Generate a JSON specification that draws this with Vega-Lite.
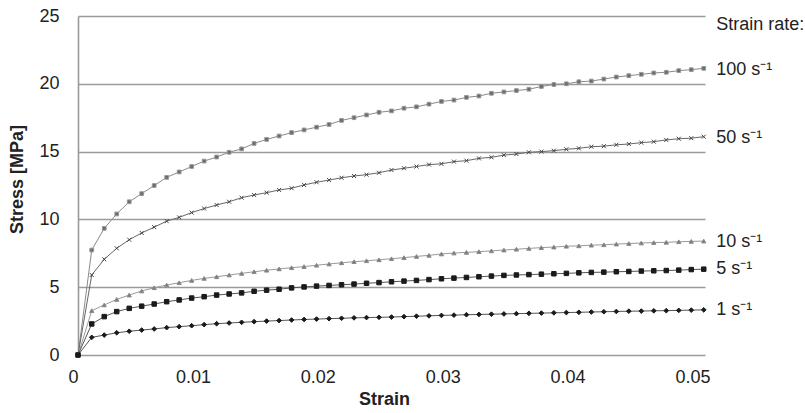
{
  "$schema": "https://vega.github.io/schema/vega-lite/v6.json",
  "width": 627,
  "height": 339,
  "autosize": {"type": "none"},
  "padding": {"left": 78, "top": 16, "right": 100, "bottom": 58},
  "background": "white",
  "config": {"view": {"stroke": null}, "font": "Liberation Sans"},
  "datasets": {
    "curves": [
      {"strain": 0, "r100": 0, "r50": 0, "r10": 0, "r5": 0, "r1": 0},
      {"strain": 0.0011, "r100": 7.74, "r50": 5.9, "r10": 3.27, "r5": 2.29, "r1": 1.3},
      {"strain": 0.0021, "r100": 9.34, "r50": 7.06, "r10": 3.69, "r5": 2.83, "r1": 1.47},
      {"strain": 0.0031, "r100": 10.4, "r50": 7.87, "r10": 4.1, "r5": 3.2, "r1": 1.64},
      {"strain": 0.0041, "r100": 11.3, "r50": 8.5, "r10": 4.42, "r5": 3.44, "r1": 1.75},
      {"strain": 0.0051, "r100": 11.9, "r50": 9.0, "r10": 4.72, "r5": 3.6, "r1": 1.84},
      {"strain": 0.0061, "r100": 12.5, "r50": 9.43, "r10": 4.96, "r5": 3.76, "r1": 1.92},
      {"strain": 0.0071, "r100": 13.1, "r50": 9.87, "r10": 5.16, "r5": 3.93, "r1": 2.02},
      {"strain": 0.0081, "r100": 13.5, "r50": 10.15, "r10": 5.33, "r5": 4.06, "r1": 2.09},
      {"strain": 0.0091, "r100": 13.9, "r50": 10.5, "r10": 5.5, "r5": 4.2, "r1": 2.16},
      {"strain": 0.0101, "r100": 14.3, "r50": 10.8, "r10": 5.65, "r5": 4.3, "r1": 2.24},
      {"strain": 0.0111, "r100": 14.6, "r50": 11.06, "r10": 5.77, "r5": 4.42, "r1": 2.31},
      {"strain": 0.0121, "r100": 14.95, "r50": 11.3, "r10": 5.9, "r5": 4.5, "r1": 2.36},
      {"strain": 0.0131, "r100": 15.2, "r50": 11.6, "r10": 6.02, "r5": 4.58, "r1": 2.41},
      {"strain": 0.0141, "r100": 15.6, "r50": 11.8, "r10": 6.14, "r5": 4.7, "r1": 2.46},
      {"strain": 0.0151, "r100": 15.9, "r50": 11.97, "r10": 6.25, "r5": 4.78, "r1": 2.5},
      {"strain": 0.0161, "r100": 16.15, "r50": 12.17, "r10": 6.35, "r5": 4.85, "r1": 2.54},
      {"strain": 0.0171, "r100": 16.4, "r50": 12.3, "r10": 6.44, "r5": 4.95, "r1": 2.58},
      {"strain": 0.0181, "r100": 16.6, "r50": 12.54, "r10": 6.52, "r5": 5.02, "r1": 2.62},
      {"strain": 0.0191, "r100": 16.8, "r50": 12.74, "r10": 6.62, "r5": 5.08, "r1": 2.65},
      {"strain": 0.0201, "r100": 17.0, "r50": 12.9, "r10": 6.71, "r5": 5.13, "r1": 2.68},
      {"strain": 0.0211, "r100": 17.3, "r50": 13.07, "r10": 6.8, "r5": 5.18, "r1": 2.71},
      {"strain": 0.0221, "r100": 17.5, "r50": 13.2, "r10": 6.88, "r5": 5.23, "r1": 2.74},
      {"strain": 0.0231, "r100": 17.7, "r50": 13.3, "r10": 6.95, "r5": 5.29, "r1": 2.76},
      {"strain": 0.0241, "r100": 17.9, "r50": 13.44, "r10": 7.02, "r5": 5.34, "r1": 2.78},
      {"strain": 0.0251, "r100": 18.0, "r50": 13.64, "r10": 7.1, "r5": 5.4, "r1": 2.8},
      {"strain": 0.0261, "r100": 18.2, "r50": 13.77, "r10": 7.18, "r5": 5.45, "r1": 2.83},
      {"strain": 0.0271, "r100": 18.3, "r50": 13.9, "r10": 7.27, "r5": 5.5, "r1": 2.86},
      {"strain": 0.0281, "r100": 18.5, "r50": 14.04, "r10": 7.35, "r5": 5.56, "r1": 2.89},
      {"strain": 0.0291, "r100": 18.7, "r50": 14.1, "r10": 7.45, "r5": 5.62, "r1": 2.92},
      {"strain": 0.0301, "r100": 18.8, "r50": 14.26, "r10": 7.52, "r5": 5.67, "r1": 2.94},
      {"strain": 0.0311, "r100": 19.0, "r50": 14.33, "r10": 7.57, "r5": 5.72, "r1": 2.97},
      {"strain": 0.0321, "r100": 19.1, "r50": 14.5, "r10": 7.62, "r5": 5.77, "r1": 2.99},
      {"strain": 0.0331, "r100": 19.3, "r50": 14.58, "r10": 7.68, "r5": 5.82, "r1": 3.01},
      {"strain": 0.0341, "r100": 19.4, "r50": 14.74, "r10": 7.74, "r5": 5.87, "r1": 3.03},
      {"strain": 0.0351, "r100": 19.5, "r50": 14.82, "r10": 7.8, "r5": 5.9, "r1": 3.05},
      {"strain": 0.0361, "r100": 19.6, "r50": 14.95, "r10": 7.86, "r5": 5.93, "r1": 3.07},
      {"strain": 0.0371, "r100": 19.8, "r50": 15.0, "r10": 7.92, "r5": 5.96, "r1": 3.09},
      {"strain": 0.0381, "r100": 19.95, "r50": 15.07, "r10": 7.96, "r5": 5.99, "r1": 3.11},
      {"strain": 0.0391, "r100": 20.0, "r50": 15.17, "r10": 8.02, "r5": 6.02, "r1": 3.13},
      {"strain": 0.0401, "r100": 20.15, "r50": 15.24, "r10": 8.05, "r5": 6.06, "r1": 3.15},
      {"strain": 0.0411, "r100": 20.2, "r50": 15.36, "r10": 8.1, "r5": 6.09, "r1": 3.17},
      {"strain": 0.0421, "r100": 20.35, "r50": 15.4, "r10": 8.13, "r5": 6.11, "r1": 3.19},
      {"strain": 0.0431, "r100": 20.5, "r50": 15.5, "r10": 8.18, "r5": 6.14, "r1": 3.21},
      {"strain": 0.0441, "r100": 20.6, "r50": 15.56, "r10": 8.22, "r5": 6.16, "r1": 3.23},
      {"strain": 0.0451, "r100": 20.7, "r50": 15.66, "r10": 8.26, "r5": 6.19, "r1": 3.24},
      {"strain": 0.0461, "r100": 20.8, "r50": 15.73, "r10": 8.29, "r5": 6.21, "r1": 3.26},
      {"strain": 0.0471, "r100": 20.85, "r50": 15.86, "r10": 8.31, "r5": 6.23, "r1": 3.27},
      {"strain": 0.0481, "r100": 20.97, "r50": 15.95, "r10": 8.35, "r5": 6.26, "r1": 3.29},
      {"strain": 0.0491, "r100": 21.04, "r50": 15.99, "r10": 8.38, "r5": 6.3, "r1": 3.31},
      {"strain": 0.0501, "r100": 21.14, "r50": 16.1, "r10": 8.4, "r5": 6.33, "r1": 3.33}
    ],
    "labels": [
      {"label": "Strain rate:", "strain": 0.0511, "stress": 24.3},
      {"label": "100 s⁻¹", "strain": 0.0511, "stress": 21.0},
      {"label": "50 s⁻¹", "strain": 0.0511, "stress": 16.0},
      {"label": "10 s⁻¹", "strain": 0.0511, "stress": 8.3},
      {"label": "5 s⁻¹", "strain": 0.0511, "stress": 6.35},
      {"label": "1 s⁻¹", "strain": 0.0511, "stress": 3.3}
    ]
  },
  "layer": [
    {
      "data": {"name": "curves"},
      "transform": [{"fold": ["r100", "r50", "r10", "r5", "r1"], "as": ["rate", "stress"]}],
      "layer": [
        {
          "mark": {"type": "line", "strokeWidth": 1, "clip": false},
          "encoding": {
            "x": {
              "field": "strain", "type": "quantitative",
              "scale": {"domain": [0, 0.0502], "nice": false},
              "axis": {
                "values": [0, 0.01, 0.02, 0.03, 0.04, 0.05],
                "format": "~g", "grid": false, "domain": false, "ticks": false,
                "labelPadding": 13, "labelOffset": -10, "labelFontSize": 18, "labelColor": "#222",
                "title": "Strain", "titleFontSize": 18, "titleFontWeight": "bold", "titleColor": "#222",
                "titlePadding": 4, "titleX": 306
              }
            },
            "y": {
              "field": "stress", "type": "quantitative",
              "scale": {"domain": [0, 25], "nice": false},
              "axis": {
                "values": [0, 5, 10, 15, 20, 25],
                "grid": true, "gridColor": "#9a9a9a", "gridWidth": 1.6,
                "domain": true, "domainColor": "#9a9a9a", "domainWidth": 1.6,
                "ticks": false, "labelPadding": 19, "labelFontSize": 18, "labelColor": "#222",
                "title": "Stress [MPa]", "titleFontSize": 18, "titleFontWeight": "bold", "titleColor": "#222",
                "titlePadding": 12, "titleY": 163
              }
            },
            "detail": {"field": "rate"},
            "color": {
              "field": "rate", "type": "nominal", "legend": null,
              "scale": {"domain": ["r100", "r50", "r10", "r5", "r1"], "range": ["#8a8a8a", "#666666", "#9a9a9a", "#555555", "#555555"]}
            }
          }
        },
        {
          "mark": {"type": "point", "filled": true, "strokeWidth": 1, "opacity": 1, "clip": false},
          "encoding": {
            "x": {"field": "strain", "type": "quantitative"},
            "y": {"field": "stress", "type": "quantitative"},
            "shape": {
              "field": "rate", "type": "nominal", "legend": null,
              "scale": {"domain": ["r100", "r50", "r10", "r5", "r1"], "range": ["square", "M-1,-1L1,1M-1,1L1,-1", "triangle-up", "square", "diamond"]}
            },
            "fill": {
              "field": "rate", "type": "nominal", "legend": null,
              "scale": {"domain": ["r100", "r50", "r10", "r5", "r1"], "range": ["#6a6a6a", "#444444", "#7a7a7a", "#1a1a1a", "#1a1a1a"]}
            },
            "stroke": {
              "field": "rate", "type": "nominal", "legend": null,
              "scale": {"domain": ["r100", "r50", "r10", "r5", "r1"], "range": ["#9a9a9a", "#444444", "#8a8a8a", "#1a1a1a", "#1a1a1a"]}
            },
            "size": {
              "field": "rate", "type": "nominal", "legend": null,
              "scale": {"domain": ["r100", "r50", "r10", "r5", "r1"], "range": [14, 22, 24, 44, 24]}
            }
          }
        }
      ]
    },
    {
      "data": {"name": "labels"},
      "mark": {"type": "text", "align": "left", "baseline": "middle", "fontSize": 18, "color": "#222", "clip": false},
      "encoding": {
        "x": {"field": "strain", "type": "quantitative"},
        "y": {"field": "stress", "type": "quantitative"},
        "text": {"field": "label"}
      }
    }
  ]
}
